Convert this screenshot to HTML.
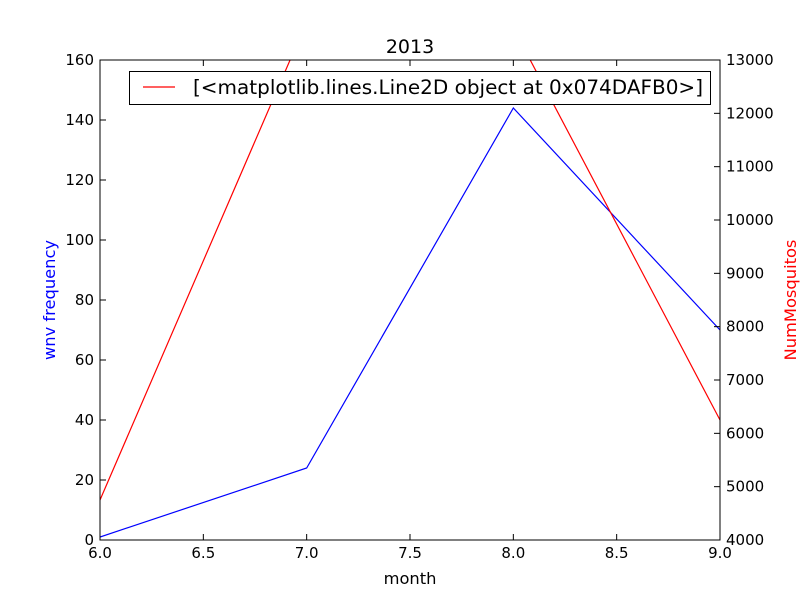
<!DOCTYPE html>
<html><head><meta charset="utf-8"><style>
body{margin:0;background:#fff}
#c text{font-family:"DejaVu Sans","Liberation Sans",sans-serif;font-size:15px}
#a text{font-family:"DejaVu Sans","Liberation Sans",sans-serif;font-size:16.3px}
</style></head><body>
<svg id="c" width="800" height="600"></svg>
<script>
const months=[6,7,8,9];
const wnv=[1,24,144,70];
const mosq=[4750,13720,13600,6250];
const xTicks=[6.0,6.5,7.0,7.5,8.0,8.5,9.0];
const yLTicks=[0,20,40,60,80,100,120,140,160];
const yRTicks=[4000,5000,6000,7000,8000,9000,10000,11000,12000,13000];
const L=100,R=720,T=60,B=540;
const sx=v=>L+(v-6)/3*(R-L);
const syL=v=>B-v/160*(B-T);
const syR=v=>B-(v-4000)/9000*(B-T);
const svg=document.getElementById('c');
const NS='http://www.w3.org/2000/svg';
function mk(tag,attrs,parent){const e=document.createElementNS(NS,tag);for(const k in attrs)e.setAttribute(k,attrs[k]);(parent||svg).appendChild(e);return e;}
const defs=mk('defs',{});const cp=mk('clipPath',{id:'clip'},defs);mk('rect',{x:L,y:T,width:R-L,height:B-T},cp);
let p=mk('polyline',{points:months.map((m,i)=>sx(m)+','+syL(wnv[i])).join(' '),fill:'none',stroke:'#0000ff','stroke-width':1.2,'clip-path':'url(#clip)'});


p=mk('polyline',{points:months.map((m,i)=>sx(m)+','+syR(mosq[i])).join(' '),fill:'none',stroke:'#ff0000','stroke-width':1.2,'clip-path':'url(#clip)'});


const fr=mk('rect',{x:L,y:T,width:R-L,height:B-T,fill:'none',stroke:'#000','stroke-width':1});


xTicks.forEach(v=>{const x=sx(v);mk('line',{x1:x,x2:x,y1:B,y2:B-6,stroke:'#000'});mk('line',{x1:x,x2:x,y1:T,y2:T+6,stroke:'#000'});
 const t=mk('text',{x:x,y:B+18,'text-anchor':'middle'});t.textContent=v.toFixed(1);
 
 });
yLTicks.forEach(v=>{const y=syL(v);mk('line',{x1:L,x2:L+6,y1:y,y2:y,stroke:'#000'});
 const t=mk('text',{x:L-6,y:y+5,'text-anchor':'end'});t.textContent=v;
 
 });
yRTicks.forEach(v=>{const y=syR(v);mk('line',{x1:R,x2:R-6,y1:y,y2:y,stroke:'#000'});
 const t=mk('text',{x:R+6,y:y+5,'text-anchor':'start'});t.textContent=v;
 
 });
</script>
<svg id="a" width="800" height="600" style="position:absolute;left:0;top:0">
<text x="410" y="53" text-anchor="middle" style="font-size:19px">2013</text>
<text x="410" y="584" text-anchor="middle">month</text>
<text x="55" y="300" text-anchor="middle" fill="#0000ff" transform="rotate(-90 55 300)">wnv frequency</text>
<text x="796" y="300" text-anchor="middle" fill="#ff0000" transform="rotate(-90 796 300)">NumMosquitos</text>
<g>
<rect x="129.5" y="71.5" width="581" height="33" fill="#fff" stroke="#000"/>
<line x1="143" x2="175" y1="87" y2="87" stroke="#ff0000" stroke-width="1.2"/>
<text x="193" y="94" style="font-size:19.5px" textLength="510" lengthAdjust="spacingAndGlyphs">[&lt;matplotlib.lines.Line2D object at 0x074DAFB0&gt;]</text>
</g>
</svg>
</body></html>
